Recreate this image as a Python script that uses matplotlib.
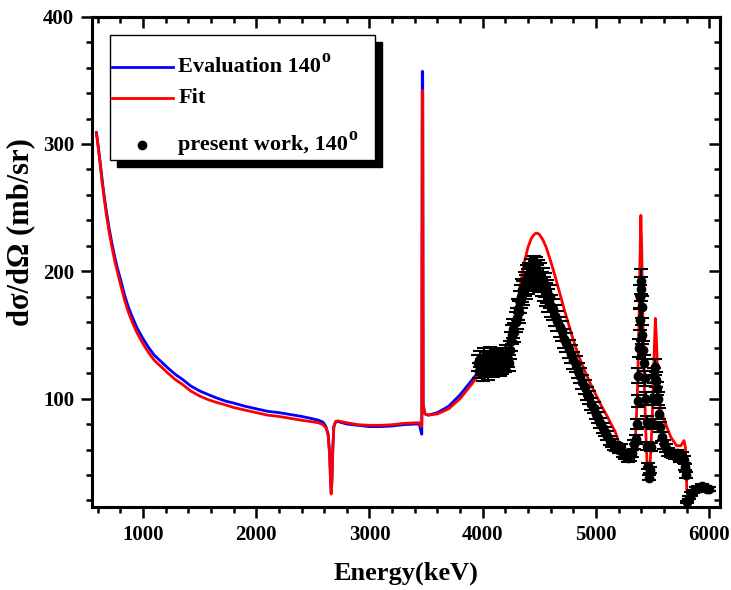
import numpy as np
import matplotlib.pyplot as plt
from matplotlib.patches import Rectangle
from matplotlib.ticker import MultipleLocator

plt.rcParams['font.family'] = ['Liberation Serif', 'DejaVu Serif']
plt.rcParams['font.weight'] = 'bold'

# Fit curve (red)
fit_e = [588, 600, 620, 640, 660, 680, 700, 725, 750, 775, 800, 835, 870, 910, 950,
         1000, 1050, 1100, 1160, 1220, 1285, 1350, 1420, 1500, 1580, 1650, 1730, 1800,
         1900, 2000, 2100, 2200, 2300, 2400, 2480, 2550, 2590, 2615, 2635, 2648, 2656,
         2662, 2668, 2676, 2685, 2700, 2720, 2800, 2900, 3000, 3100, 3200, 3300, 3400,
         3440, 3455, 3462, 3466, 3470, 3474, 3490, 3520, 3600, 3700, 3800, 3900, 3975,
         4050, 4150, 4220, 4250, 4280, 4310, 4340, 4370, 4400, 4430, 4460, 4480, 4500,
         4530, 4560, 4600, 4640, 4680, 4720, 4760, 4800, 4850, 4900, 4950, 5000, 5050,
         5100, 5140, 5170, 5190, 5210, 5240, 5270, 5300, 5330, 5350, 5365, 5378, 5388,
         5397, 5405, 5415, 5428, 5440, 5452, 5465, 5475, 5488, 5500, 5512, 5525, 5535,
         5548, 5565, 5600, 5625, 5660, 5712, 5750, 5778, 5790, 5797, 5803, 5815, 5860,
         5920, 5970, 6000]
fit_y = [309, 300, 285, 269, 255, 242, 231, 219, 208, 199, 190, 178, 168, 159, 151,
         143, 136, 130, 125, 120, 115, 111, 106, 102, 99, 97, 95, 93,
         91, 89, 87, 86, 84.5, 83, 82, 81, 79.5, 77, 71, 55, 35,
         25, 35, 60, 78, 82, 82.5, 81, 79.5, 79, 79, 79.5, 80.5, 81,
         81, 78, 80, 342, 342, 95, 88, 87, 88, 92, 100, 111, 120,
         127, 134, 143, 150, 162, 177, 193, 208, 219, 226, 229.5, 230, 229,
         225, 219, 208, 196, 183, 170, 158, 146, 133, 122, 112, 103, 94,
         86, 79, 74, 69, 63, 58, 56, 55, 60, 72, 100, 150, 205,
         244, 215, 160, 110, 75, 48, 37, 42, 65, 92, 130, 163, 145,
         112, 94, 84, 78, 70, 63, 63, 67, 62, 45, 28, 25, 26,
         27.5, 28, 27]

# Evaluation curve (blue)
eval_e = [588, 600, 620, 640, 660, 680, 700, 725, 750, 775, 800, 835, 870, 910, 950,
          1000, 1050, 1100, 1160, 1220, 1285, 1350, 1420, 1500, 1580, 1650, 1730, 1800,
          1900, 2000, 2100, 2200, 2300, 2400, 2480, 2550, 2590, 2615, 2635, 2648, 2656,
          2662, 2668, 2676, 2685, 2700, 2720, 2800, 2900, 3000, 3100, 3200, 3300, 3400,
          3440, 3455, 3462, 3466, 3470, 3474, 3490, 3520, 3600, 3700, 3800, 3900, 3960]
eval_y = [309, 301, 286.5, 271, 257, 245, 234, 222, 211.5, 202, 194, 182, 172, 163, 155,
          147, 140, 134, 129, 124, 119, 115, 110, 106, 103, 100.5, 98, 96.5,
          94, 92, 90, 89, 87.5, 86, 84.5, 83, 81.5, 78, 72, 57, 37,
          26, 36, 61, 78, 81.5, 82, 80, 79, 78, 78, 78.5, 79.5, 80,
          80, 74, 72, 357, 357, 95, 88, 87, 89, 94, 103, 114, 121]

# present work, 140 deg
data_e = [3960, 3970, 3980, 3990, 4000, 4010, 4020, 4030, 4040, 4050, 4060, 4070, 4080,
          4090, 4100, 4110, 4120, 4130, 4140, 4150, 4160, 4170, 4180, 4190, 4200, 4210,
          4220, 4230, 4240, 4250, 4260, 4270, 4280, 4290, 4300, 4310, 4320, 4330, 4340,
          4350, 4360, 4370, 4380, 4390, 4400, 4410, 4420, 4430, 4440, 4450, 4460, 4470,
          4480, 4490, 4500, 4510, 4520, 4530, 4540, 4550, 4560, 4570, 4580, 4590, 4600,
          4620, 4640, 4660, 4680, 4700, 4720, 4740, 4760, 4780, 4800, 4820, 4840, 4860,
          4880, 4900, 4920, 4940, 4960, 4980, 5000, 5020, 5040, 5060, 5080, 5100, 5120,
          5140, 5160, 5180, 5200, 5220, 5240, 5260, 5280, 5300, 5320, 5340, 5350, 5360,
          5368, 5374, 5380, 5385, 5390, 5395, 5400, 5405, 5410, 5418, 5425, 5432, 5440,
          5448, 5455, 5462, 5470, 5480, 5490, 5500, 5508, 5515, 5522, 5530, 5538, 5545,
          5555, 5565, 5580, 5600, 5620, 5640, 5660, 5680, 5700, 5720, 5740, 5760, 5775,
          5785, 5795, 5805, 5820, 5840, 5860, 5880, 5900, 5920, 5940, 5960, 5980, 6000]
data_y = [128, 122, 131, 125, 120, 133, 127, 124, 130, 121, 134, 126, 129,
          123, 131, 127, 125, 132, 128, 124, 130, 126, 133, 129, 127, 135,
          131, 128, 138, 145, 150, 155, 152, 160, 163, 170, 168, 176, 180,
          185, 183, 190, 188, 195, 192, 197, 194, 200, 196, 202, 198, 201,
          195, 199, 193, 197, 190, 193, 186, 189, 182, 184, 177, 180, 173,
          170, 165, 161, 156, 153, 147, 144, 139, 135, 130, 127, 122, 118,
          113, 109, 104, 101, 96, 93, 88, 85, 81, 77, 74, 71, 67,
          65, 63, 62, 60, 61, 57, 55, 53, 54, 57, 64, 68, 80,
          98, 118, 140, 162, 180, 192, 186, 172, 150, 138, 128, 116, 100,
          82, 63, 47, 38, 44, 62, 80, 100, 118, 125, 115, 108, 100,
          88, 78, 70, 64, 61, 58, 57, 56, 55, 57, 53, 55, 52,
          46, 40, 19, 22, 25, 27, 29, 30, 30, 31, 30, 29, 29]
rel_err = 0.05

fig, ax = plt.subplots(figsize=(7.31, 5.9), dpi=100)
fig.subplots_adjust(left=0.126, right=0.9856, bottom=0.141, top=0.9717)

ax.plot(eval_e, eval_y, color='#0000ff', lw=2.0, zorder=2)
ax.plot(fit_e, fit_y, color='#ff0000', lw=2.0, zorder=3)
data_y = np.array(data_y)
ax.errorbar(data_e, data_y, yerr=rel_err * data_y, fmt='o', color='k', ms=6,
            capsize=5, elinewidth=1.5, capthick=1.5, zorder=4)

ax.set_xlim(550, 6100)
ax.set_ylim(15, 400)
ax.xaxis.set_major_locator(MultipleLocator(1000))
ax.xaxis.set_minor_locator(MultipleLocator(200))
ax.yaxis.set_major_locator(MultipleLocator(100))
ax.yaxis.set_minor_locator(MultipleLocator(20))
ax.set_xticks([1000, 2000, 3000, 4000, 5000, 6000])
ax.set_yticks([100, 200, 300, 400])

for s in ax.spines.values():
    s.set_linewidth(2.2)
ax.tick_params(which='both', direction='out', width=1.8, labelsize=15,
               top=False, right=False)
ax.tick_params(which='major', length=8, pad=5)
ax.tick_params(which='minor', length=4.5)

# inward ticks on top / right
sec_x = ax.secondary_xaxis('top')
sec_x.xaxis.set_major_locator(MultipleLocator(1000))
sec_x.xaxis.set_minor_locator(MultipleLocator(200))
sec_x.tick_params(which='both', direction='in', width=1.8, labeltop=False)
sec_x.tick_params(which='major', length=8)
sec_x.tick_params(which='minor', length=4.5)
sec_x.spines['top'].set_linewidth(2.2)
sec_y = ax.secondary_yaxis('right')
sec_y.yaxis.set_major_locator(MultipleLocator(100))
sec_y.yaxis.set_minor_locator(MultipleLocator(20))
sec_y.tick_params(which='both', direction='in', width=1.8, labelright=False)
sec_y.tick_params(which='major', length=8)
sec_y.tick_params(which='minor', length=4.5)
sec_y.spines['right'].set_linewidth(2.2)

for lab in ax.get_xticklabels() + ax.get_yticklabels():
    lab.set_fontweight('bold')

ax.set_xlabel('Energy(keV)', fontsize=19, fontweight='bold', labelpad=12)
ax.set_ylabel('dσ/dΩ (mb/sr)', fontsize=22, fontweight='bold')
ax.yaxis.set_label_coords(-0.09, 0.561)

# legend box with shadow (Origin style)
bx0, by0, bw, bh = 0.0286, 0.708, 0.4216, 0.255
ax.add_patch(Rectangle((bx0 + 0.011, by0 - 0.014), bw, bh, transform=ax.transAxes,
                       facecolor='k', edgecolor='k', zorder=9, clip_on=False))
ax.add_patch(Rectangle((bx0, by0), bw, bh, transform=ax.transAxes,
                       facecolor='white', edgecolor='k', lw=1.0, zorder=10, clip_on=False))
ax.plot([0.032, 0.129], [0.897, 0.897], color='#0000ff', lw=2.0,
        transform=ax.transAxes, zorder=11)
ax.plot([0.032, 0.129], [0.834, 0.834], color='#ff0000', lw=2.0,
        transform=ax.transAxes, zorder=11)
ax.plot([0.0796], [0.738], 'o', color='k', ms=6, transform=ax.transAxes, zorder=11)
leg_txt = ['Evaluation 140', 'Fit', 'present work, 140']
leg_sup = ['o', '', 'o']
for t, sup, yy in zip(leg_txt, leg_sup, [0.897, 0.834, 0.738]):
    txt = ax.text(0.137, yy, t, transform=ax.transAxes, fontsize=16, fontweight='bold',
                  va='center', ha='left', zorder=11)
    if sup:
        ax.annotate(sup, xy=(1.0, 1.0), xycoords=txt, xytext=(0.3, 6),
                    textcoords='offset points', fontsize=13, fontweight='bold',
                    ha='left', va='top', zorder=11)

fig.savefig('out.png', dpi=100)
